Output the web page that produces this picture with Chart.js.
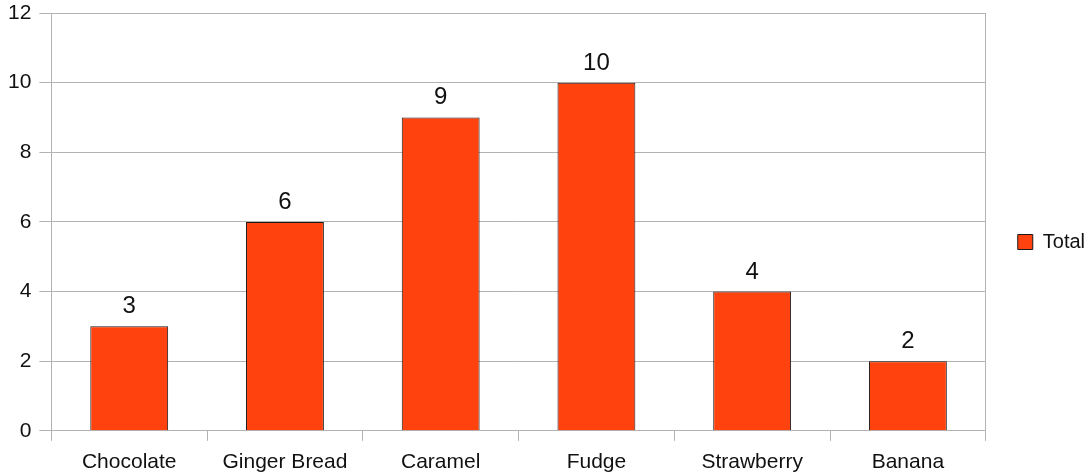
<!DOCTYPE html>
<html>
<head>
<meta charset="utf-8">
<title>Total</title>
<script src="https://cdn.jsdelivr.net/npm/chart.js"></script>
<style>
  html, body { margin: 0; padding: 0; background: #fff; }
  #wrap { width: 1092px; height: 475px; }
</style>
</head>
<body>
<div id="wrap"><canvas id="chart" width="1092" height="475"></canvas></div>
<script>
const categories = ["Chocolate", "Ginger Bread", "Caramel", "Fudge", "Strawberry", "Banana"];
const totals = [3, 6, 9, 10, 4, 2];
const seriesName = "Total";

const font = "'Liberation Sans', Arial, sans-serif";

// numbers above each bar
const valueLabels = {
  id: "valueLabels",
  afterDatasetsDraw(chart) {
    const ctx = chart.ctx;
    const meta = chart.getDatasetMeta(0);
    ctx.save();
    ctx.font = "24px " + font;
    ctx.fillStyle = "#111";
    ctx.textAlign = "center";
    ctx.textBaseline = "alphabetic";
    meta.data.forEach((bar, i) => {
      ctx.fillText(String(totals[i]), bar.x, bar.y - 13);
    });
    ctx.restore();
  }
};

new Chart(document.getElementById("chart"), {
  type: "bar",
  data: {
    labels: categories,
    datasets: [{
      label: seriesName,
      data: totals,
      backgroundColor: "#ff420e",
      borderColor: "#1a1a1a",
      borderWidth: 1,
      categoryPercentage: 1,
      barPercentage: 0.5
    }]
  },
  options: {
    responsive: false,
    animation: false,
    layout: { padding: { top: 0, right: -3, left: 0, bottom: -9 } },
    plugins: {
      legend: {
        position: "right",
        labels: {
          boxWidth: 15,
          boxHeight: 15,
          padding: 6,
          color: "#111",
          font: { family: font, size: 20 }
        }
      },
      tooltip: { enabled: false }
    },
    scales: {
      x: {
        offset: true,
        grid: { offset: true, drawOnChartArea: false, color: "#b3b3b3", tickLength: 10 },
        border: { color: "#b3b3b3" },
        ticks: { color: "#111", font: { family: font, size: 21 }, padding: 9 }
      },
      y: {
        min: 0,
        max: 12,
        ticks: { stepSize: 2, color: "#111", font: { family: font, size: 21 }, padding: 8 },
        grid: { color: "#b3b3b3", tickLength: 12 },
        border: { color: "#b3b3b3" },
        afterFit(axis) { axis.paddingTop = 13; }
      },
      yRight: {
        position: "right",
        min: 0,
        max: 12,
        ticks: { display: false },
        grid: { drawOnChartArea: false, drawTicks: false },
        border: { color: "#b3b3b3" },
        afterFit(axis) { axis.width = 26; axis.paddingTop = 0; }
      }
    }
  },
  plugins: [valueLabels]
});
</script>
</body>
</html>
